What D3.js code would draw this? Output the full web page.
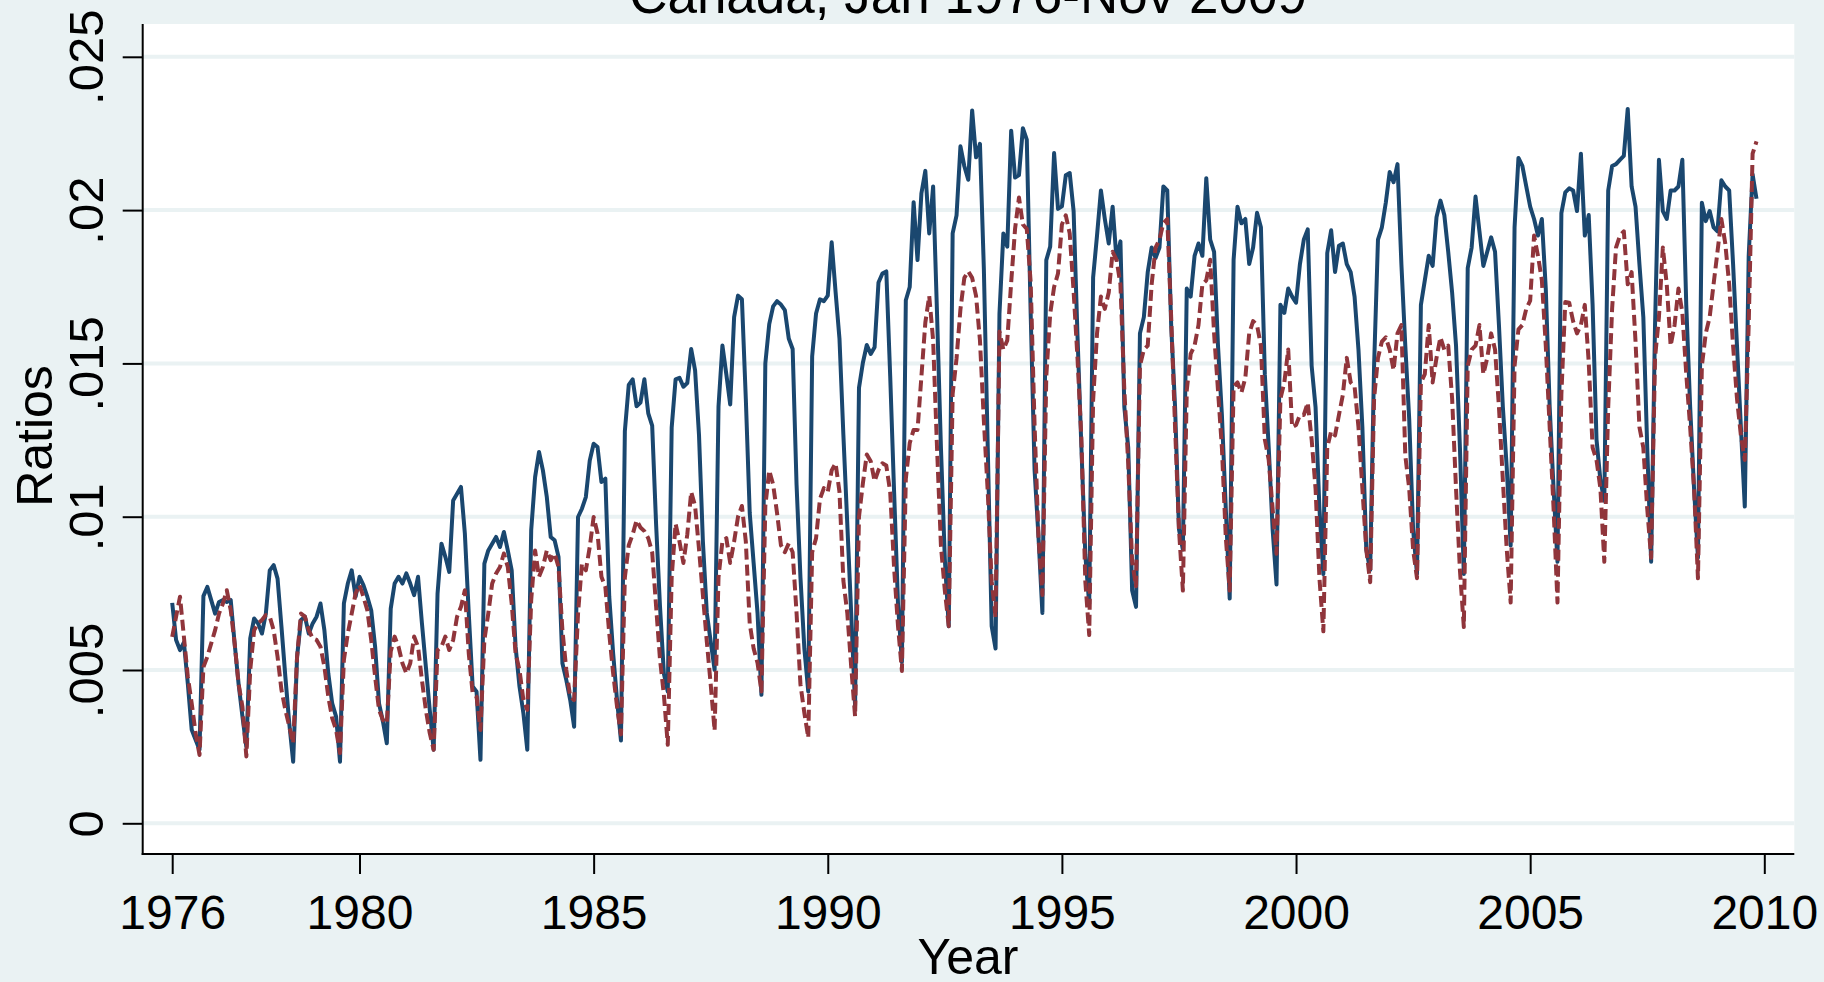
<!DOCTYPE html>
<html>
<head>
<meta charset="utf-8">
<script src="https://cdn.jsdelivr.net/npm/d3@7"></script>
<style>
    html, body { margin: 0; padding: 0; background: #eaf2f3; }
    svg { display: block; font-family: "Liberation Sans", Arial, Helvetica, sans-serif; }
</style>
</head>
<body>
<svg width="1824" height="982"></svg>
<script>
// monthly series, Jan 1976 - Nov 2009, values are ratio x 1000
var startYear = 1976;
var titleText = "Canada, Jan 1976-Nov 2009";

var seriesSolid = [
    7.19, 5.98, 5.65, 5.9, 4.56, 3.05, 2.72, 2.40, 7.41, 7.71, 7.28, 6.84,
    7.22, 7.28, 7.22, 7.28, 5.87, 4.56, 3.48, 2.50, 6.03, 6.68, 6.52, 6.19,
    6.84, 8.25, 8.42, 7.98, 6.41, 4.78, 3.26, 2.01, 5.43, 6.63, 6.74, 6.19,
    6.52, 6.74, 7.17, 6.30, 4.89, 3.91, 3.48, 2.01, 7.17, 7.82, 8.25, 7.39,
    8.04, 7.77, 7.39, 6.95, 5.76, 3.91, 3.32, 2.61, 7.0, 7.82, 8.04, 7.82,
    8.15, 7.82, 7.44, 8.04, 6.52, 5.11, 3.70, 2.40, 7.49, 9.12, 8.69, 8.20,
    10.53, 10.75, 10.97, 9.45, 6.84, 4.46, 4.29, 2.07, 8.47, 8.90, 9.12, 9.34,
    9.01, 9.50, 8.90, 8.25, 5.76, 4.46, 3.59, 2.40, 9.56, 11.29, 12.11, 11.51,
    10.64, 9.34, 9.23, 8.69, 5.22, 4.67, 4.02, 3.15, 9.99, 10.26, 10.64, 11.83,
    12.38, 12.27, 11.13, 11.24, 7.39, 5.54, 4.02, 2.7, 12.79, 14.30, 14.48, 13.60,
    13.72, 14.48, 13.37, 12.97, 9.77, 7.09, 4.88, 4.30, 12.91, 14.48, 14.53, 14.24,
    14.36, 15.47, 14.77, 12.67, 9.19, 6.86, 5.93, 5.00, 13.60, 15.58, 14.65, 13.66,
    16.51, 17.21, 17.09, 13.84, 10.12, 8.49, 6.86, 4.19, 15.00, 16.28, 16.86, 17.03,
    16.92, 16.74, 15.81, 15.47, 11.05, 8.02, 5.70, 4.30, 15.23, 16.63, 17.09, 17.03,
    17.21, 18.95, 17.33, 15.81, 12.67, 9.77, 6.86, 3.84, 14.2, 15.02, 15.60, 15.31,
    15.53, 17.64, 17.93, 18.00, 14.58, 10.80, 7.15, 5.26, 17.06, 17.49, 20.26, 18.37,
    20.55, 21.28, 19.24, 20.77, 16.62, 12.25, 8.61, 6.43, 19.24, 19.83, 22.08, 21.43,
    20.99, 23.25, 21.72, 22.16, 18.08, 12.25, 6.43, 5.70, 16.62, 19.24, 18.81, 22.59,
    21.06, 21.14, 22.67, 22.30, 16.62, 11.52, 9.34, 6.86, 18.37, 18.81, 21.86, 20.04,
    20.12, 21.14, 21.21, 19.97, 15.89, 12.25, 8.76, 7.15, 17.8, 19.17, 20.64, 19.71,
    18.91, 20.11, 18.38, 18.98, 13.58, 12.25, 7.59, 7.06, 15.98, 16.51, 17.98, 18.78,
    18.44, 18.78, 20.77, 20.64, 16.25, 13.58, 9.59, 8.93, 17.44, 17.18, 18.51, 18.91,
    18.51, 21.04, 19.04, 18.64, 15.58, 13.32, 10.26, 7.33, 18.38, 20.11, 19.57, 19.71,
    18.24, 18.78, 19.91, 19.44, 14.65, 12.25, 9.59, 7.79, 16.91, 16.65, 17.44, 17.18,
    16.98, 18.24, 19.04, 19.37, 14.92, 13.58, 10.26, 8.13, 18.6, 19.34, 17.98, 18.84,
    18.91, 18.24, 17.98, 17.18, 15.45, 12.92, 8.93, 8.26, 14.92, 19.04, 19.44, 20.24,
    21.24, 20.91, 21.50, 18.24, 15.58, 13.19, 9.59, 8.13, 16.91, 17.71, 18.51, 18.18,
    19.77, 20.31, 19.84, 18.64, 17.31, 15.58, 12.25, 8.13, 18.11, 18.78, 20.44, 19.31,
    18.18, 18.64, 19.11, 18.64, 16.25, 13.58, 11.59, 9.06, 19.44, 21.70, 21.44, 20.77,
    20.11, 19.71, 19.17, 19.71, 17.44, 13.58, 10.92, 8.53, 19.9, 20.58, 20.71, 20.64,
    19.97, 21.84, 19.17, 19.84, 16.91, 12.52, 11.19, 10.52, 20.64, 21.44, 21.50, 21.64,
    21.77, 23.30, 20.77, 20.11, 18.24, 16.51, 12.25, 8.53, 16.25, 21.64, 19.97, 19.71,
    20.64, 20.64, 20.77, 21.64, 16.91, 13.58, 10.92, 8.66, 20.24, 19.64, 19.97, 19.44,
    19.31, 20.97, 20.77, 20.64, 18.24, 15.58, 12.92, 10.33, 18.5, 21.17, 20.37
];

var seriesDashed = [
    6.08, 6.74, 7.39, 6.08, 4.78, 3.91, 2.94, 2.23, 5.10, 5.43, 5.87, 6.30,
    6.84, 7.17, 7.60, 6.95, 5.87, 4.56, 3.80, 2.18, 5.00, 6.30, 6.52, 6.63,
    6.79, 6.74, 6.30, 5.43, 4.35, 3.70, 3.16, 2.61, 5.43, 6.84, 6.74, 6.30,
    6.03, 5.98, 5.76, 5.11, 4.13, 3.43, 3.05, 2.29, 5.33, 6.19, 6.84, 7.50,
    7.77, 7.39, 6.95, 5.98, 4.78, 3.70, 3.37, 3.26, 5.6, 6.09, 5.76, 5.22,
    4.89, 5.22, 6.09, 5.76, 4.67, 3.70, 2.94, 2.40, 5.65, 5.76, 6.09, 5.65,
    5.98, 6.74, 7.06, 7.60, 5.54, 4.24, 4.13, 3.04, 5.98, 6.84, 7.82, 8.15,
    8.36, 8.80, 8.36, 7.17, 5.54, 5.00, 4.02, 3.70, 7.28, 8.90, 8.04, 8.36,
    8.90, 8.58, 8.80, 8.36, 6.30, 5.00, 4.13, 4.02, 6.84, 8.47, 8.25, 9.01,
    9.99, 9.45, 8.04, 7.71, 6.19, 4.89, 3.80, 2.9, 8.02, 9.07, 9.42, 9.88,
    9.65, 9.53, 9.30, 8.84, 7.09, 5.35, 4.19, 2.56, 8.02, 9.77, 9.19, 8.49,
    9.42, 10.81, 10.35, 8.95, 7.44, 5.93, 4.53, 3.02, 8.02, 9.19, 9.30, 8.49,
    9.19, 10.00, 10.35, 9.19, 6.51, 5.70, 5.23, 4.30, 10.35, 11.51, 11.05, 10.12,
    9.07, 8.84, 9.13, 8.84, 6.86, 4.53, 3.60, 2.79, 8.84, 9.30, 10.58, 10.93,
    10.81, 11.51, 11.74, 10.81, 7.91, 6.86, 5.12, 3.49, 10.0, 11.09, 12.03, 11.81,
    11.16, 11.52, 11.74, 11.67, 10.80, 8.32, 6.43, 4.97, 11.23, 12.40, 12.83, 12.83,
    14.58, 16.33, 17.20, 15.75, 12.25, 9.05, 7.59, 6.43, 14.00, 15.16, 16.77, 17.79,
    18.00, 17.79, 17.20, 15.75, 13.13, 10.80, 7.89, 6.72, 16.04, 15.45, 15.75, 17.64,
    19.39, 20.41, 19.53, 19.39, 17.64, 12.98, 9.34, 7.45, 14.58, 16.62, 17.49, 17.93,
    19.53, 19.83, 19.24, 17.35, 15.16, 12.54, 7.89, 6.14, 13.8, 15.98, 17.18, 16.78,
    17.31, 18.64, 18.38, 17.58, 14.12, 11.72, 8.53, 7.73, 14.92, 15.45, 15.58, 17.58,
    18.78, 19.04, 19.57, 19.71, 16.51, 12.92, 9.59, 7.59, 14.12, 15.31, 15.58, 16.25,
    17.58, 17.71, 18.38, 15.98, 14.12, 12.25, 9.33, 7.59, 14.25, 14.38, 14.05, 14.52,
    15.98, 16.38, 16.25, 15.58, 12.52, 11.85, 10.26, 8.79, 13.85, 14.38, 15.45, 12.92,
    12.99, 13.32, 13.32, 13.72, 12.52, 10.92, 7.99, 6.26, 12.25, 12.79, 12.65, 13.32,
    13.98, 15.18, 14.38, 14.25, 12.92, 10.92, 8.93, 7.86, 13.85, 15.18, 15.71, 15.85,
    15.45, 14.78, 15.98, 16.25, 11.99, 10.92, 8.93, 7.99, 14.38, 14.65, 16.25, 14.38,
    15.18, 15.85, 15.45, 15.58, 13.85, 10.92, 8.26, 6.40, 14.92, 15.45, 15.58, 16.25,
    14.65, 15.18, 15.98, 15.45, 13.58, 11.19, 8.93, 7.20, 14.92, 16.11, 16.25, 16.78,
    17.05, 19.17, 18.51, 17.71, 15.58, 12.92, 10.26, 7.20, 14.0, 17.0, 16.98, 16.38,
    15.98, 16.25, 16.91, 15.05, 12.25, 11.85, 10.92, 8.53, 13.58, 16.78, 18.78, 19.17,
    19.31, 17.58, 17.98, 15.71, 12.92, 12.25, 10.26, 8.66, 15.18, 16.51, 18.78, 17.58,
    15.58, 16.25, 17.44, 16.65, 14.65, 12.92, 10.92, 7.99, 14.92, 15.98, 16.51, 17.58,
    18.64, 19.71, 18.91, 17.58, 15.58, 13.85, 12.65, 11.85, 16.25, 21.84, 22.24
];

var xTicks = [1976, 1980, 1985, 1990, 1995, 2000, 2005, 2010];
var yTicks = [0, 0.005, 0.01, 0.015, 0.02, 0.025];
var yTickLabels = ["0", ".005", ".01", ".015", ".02", ".025"];

var bgColor = "#eaf2f3";
var solidColor = "#1a476f";
var dashedColor = "#90353b";

function init() {
    var svg = d3.select("svg");
    var plot = {left: 142.7, right: 1794.3, top: 24, bottom: 854};

    svg.append("rect")
        .attr("width", 1824).attr("height", 982)
        .attr("fill", bgColor);

    svg.append("rect")
        .attr("x", plot.left).attr("y", plot.top)
        .attr("width", plot.right - plot.left)
        .attr("height", plot.bottom - plot.top)
        .attr("fill", "#ffffff");

    var x = d3.scaleLinear().domain([1976, 2010]).range([172.2, 1764.3]);
    var y = d3.scaleLinear().domain([0, 0.025]).range([823.3, 56.8]);

    // gridlines
    svg.append("g")
        .selectAll("line")
        .data(yTicks)
        .enter().append("line")
        .attr("x1", plot.left).attr("x2", plot.right)
        .attr("y1", function(d) { return y(d); })
        .attr("y2", function(d) { return y(d); })
        .style("stroke", bgColor)
        .style("stroke-width", 4);

    var toRows = function(arr) {
        return arr.map(function(v, i) { return {t: startYear + i / 12, v: v / 1000}; });
    };

    var line = d3.line()
        .x(function(d) { return x(d.t); })
        .y(function(d) { return y(d.v); });

    svg.append("path")
        .datum(toRows(seriesSolid))
        .attr("d", line)
        .attr("fill", "none")
        .style("stroke", solidColor)
        .style("stroke-width", 4)
        .style("stroke-linejoin", "round");

    svg.append("path")
        .datum(toRows(seriesDashed))
        .attr("d", line)
        .attr("fill", "none")
        .style("stroke", dashedColor)
        .style("stroke-width", 4)
        .style("stroke-dasharray", "11,5")
        .style("stroke-linejoin", "round");

    // y axis
    var yAxis = svg.append("g")
        .attr("transform", "translate(" + plot.left + ",0)")
        .call(d3.axisLeft(y)
            .tickValues(yTicks)
            .tickSize(20)
            .tickSizeOuter(0)
            .tickFormat(function(d, i) { return yTickLabels[i]; }));
    yAxis.select(".domain").remove();
    yAxis.selectAll(".tick line").style("stroke", "#000").style("stroke-width", 2);
    yAxis.selectAll(".tick text")
        .attr("transform", "rotate(-90)")
        .attr("text-anchor", "middle")
        .attr("x", 0).attr("y", -40).attr("dy", null)
        .style("font-size", "49px")
        .style("fill", "#000")
        .style("font-family", "'Liberation Sans', Arial, sans-serif");

    // x axis
    var xAxis = svg.append("g")
        .attr("transform", "translate(0," + plot.bottom + ")")
        .call(d3.axisBottom(x)
            .tickValues(xTicks)
            .tickSize(20)
            .tickSizeOuter(0)
            .tickFormat(d3.format("d")));
    xAxis.select(".domain").remove();
    xAxis.selectAll(".tick line").style("stroke", "#000").style("stroke-width", 2);
    xAxis.selectAll(".tick text")
        .attr("y", 75).attr("dy", null)
        .style("font-size", "48px")
        .style("fill", "#000")
        .style("font-family", "'Liberation Sans', Arial, sans-serif");

    // axis lines
    svg.append("line")
        .attr("x1", plot.left).attr("x2", plot.left)
        .attr("y1", plot.top).attr("y2", plot.bottom + 1)
        .style("stroke", "#000").style("stroke-width", 2);
    svg.append("line")
        .attr("x1", plot.left - 1).attr("x2", plot.right)
        .attr("y1", plot.bottom).attr("y2", plot.bottom)
        .style("stroke", "#000").style("stroke-width", 2);

    // titles
    svg.append("text")
        .attr("x", 968).attr("y", 13)
        .attr("text-anchor", "middle")
        .style("font-size", "53px")
        .text(titleText);

    svg.append("text")
        .attr("transform", "translate(51.7,436) rotate(-90)")
        .attr("text-anchor", "middle")
        .style("font-size", "50px")
        .text("Ratios");

    svg.append("text")
        .attr("x", 968).attr("y", 974)
        .attr("text-anchor", "middle")
        .style("font-size", "50px")
        .text("Year");
}

init();
</script>
</body>
</html>
